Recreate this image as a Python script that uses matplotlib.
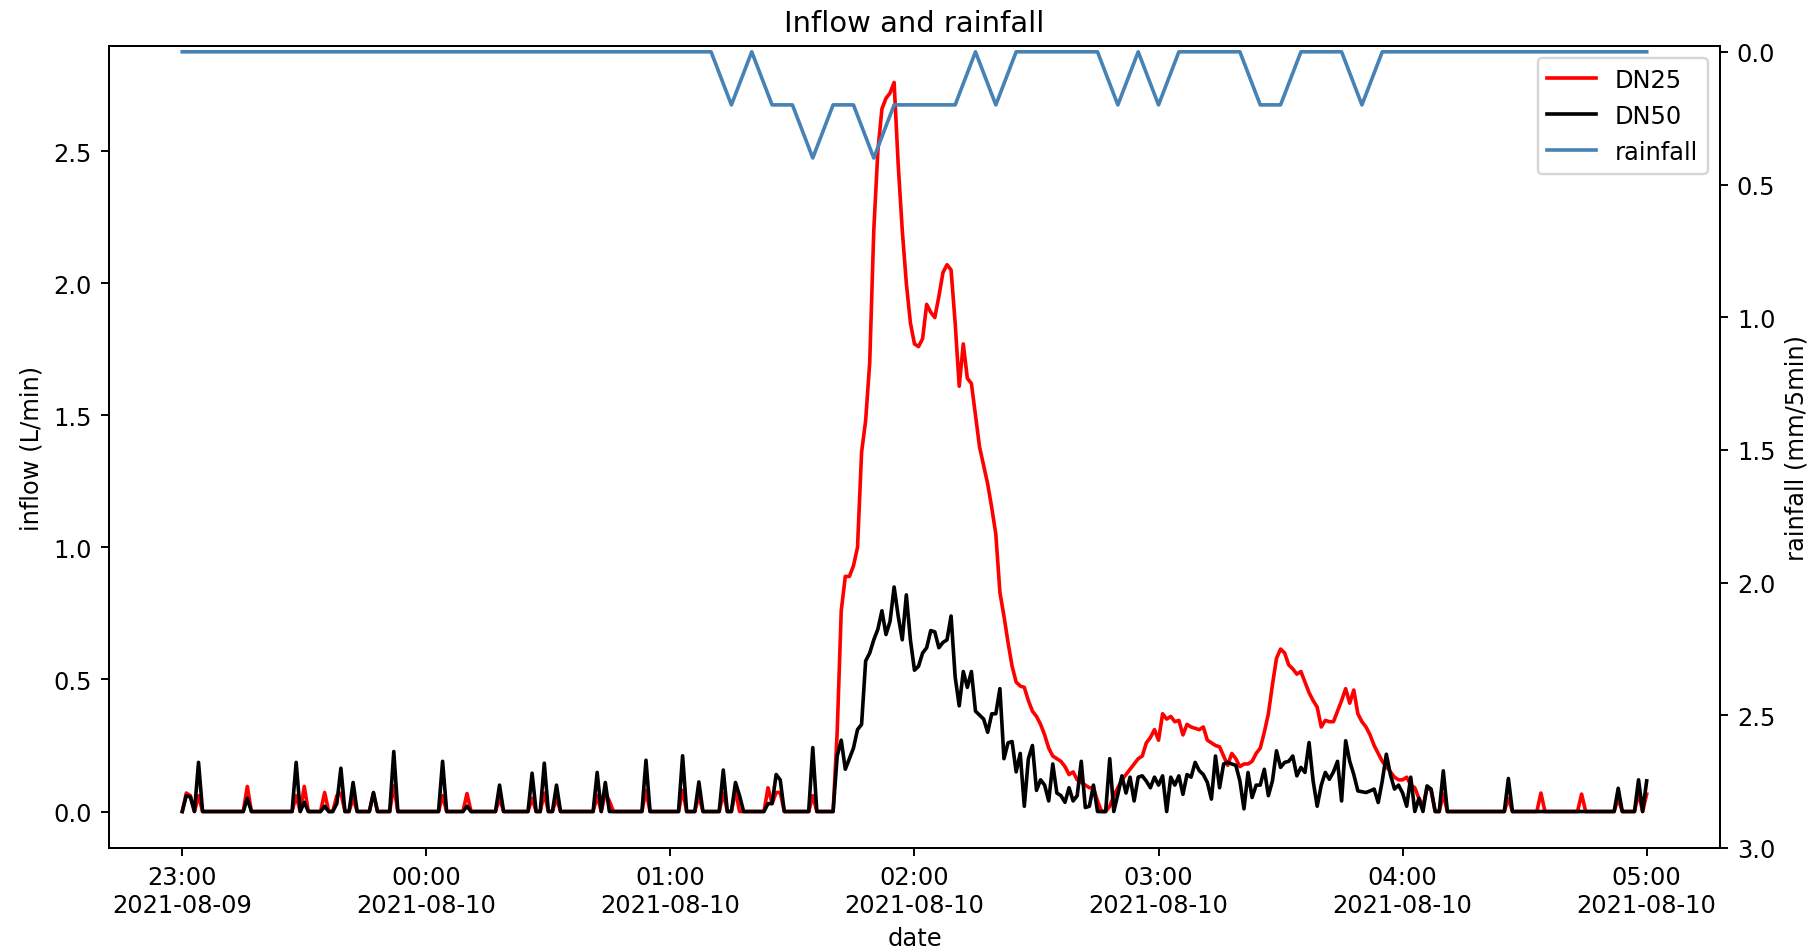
import numpy as np
import pandas as pd
import matplotlib
matplotlib.use('Agg')
import matplotlib.pyplot as plt
import matplotlib.dates as mdates

# one-minute inflow readings, 23:00 -> 05:00 (361 samples)
dn25 = [
    0, 0.07, 0.06, 0, 0.06, 0, 0, 0, 0, 0,
    0, 0, 0, 0, 0, 0, 0.095, 0, 0, 0,
    0, 0, 0, 0, 0, 0, 0, 0, 0.06, 0,
    0.095, 0, 0, 0, 0, 0.072, 0, 0, 0.06, 0.07,
    0, 0, 0.05, 0, 0, 0, 0, 0.07, 0, 0,
    0, 0, 0.097, 0, 0, 0, 0, 0, 0, 0,
    0, 0, 0, 0, 0.06, 0, 0, 0, 0, 0,
    0.068, 0, 0, 0, 0, 0, 0, 0, 0.05, 0,
    0, 0, 0, 0, 0, 0, 0.05, 0, 0, 0.07,
    0, 0, 0.05, 0, 0, 0, 0, 0, 0, 0,
    0, 0, 0.06, 0, 0.07, 0.04, 0, 0, 0, 0,
    0, 0, 0, 0, 0.08, 0, 0, 0, 0, 0,
    0, 0, 0, 0.08, 0, 0, 0, 0.06, 0, 0,
    0, 0, 0, 0.07, 0, 0, 0.08, 0, 0, 0,
    0, 0, 0, 0, 0.09, 0.03, 0.072, 0.072, 0, 0,
    0, 0, 0, 0, 0, 0.06, 0, 0, 0, 0,
    0, 0.3, 0.76, 0.89, 0.89, 0.93, 1.0, 1.36, 1.48, 1.7,
    2.2, 2.5, 2.66, 2.70, 2.72, 2.76, 2.45, 2.2, 2.0, 1.85,
    1.77, 1.76, 1.79, 1.92, 1.89, 1.87, 1.95, 2.04, 2.07, 2.05,
    1.85, 1.61, 1.77, 1.64, 1.62, 1.50, 1.38, 1.31, 1.24, 1.15,
    1.05, 0.83, 0.74, 0.64, 0.55, 0.49, 0.475, 0.47, 0.42, 0.38,
    0.36, 0.33, 0.29, 0.24, 0.21, 0.2, 0.19, 0.17, 0.14, 0.15,
    0.12, 0.11, 0.1, 0.09, 0.09, 0.04, 0.0, 0.0, 0.02, 0.06,
    0.09, 0.12, 0.14, 0.16, 0.18, 0.2, 0.21, 0.26, 0.28, 0.31,
    0.27, 0.37, 0.35, 0.36, 0.34, 0.345, 0.29, 0.33, 0.32, 0.315,
    0.31, 0.32, 0.27, 0.26, 0.25, 0.245, 0.21, 0.175, 0.22, 0.2,
    0.17, 0.18, 0.18, 0.19, 0.22, 0.24, 0.3, 0.37, 0.48, 0.58,
    0.615, 0.60, 0.555, 0.54, 0.52, 0.53, 0.49, 0.45, 0.42, 0.395,
    0.32, 0.345, 0.34, 0.34, 0.38, 0.42, 0.465, 0.41, 0.46, 0.37,
    0.34, 0.32, 0.29, 0.25, 0.22, 0.19, 0.17, 0.15, 0.13, 0.12,
    0.12, 0.13, 0.1, 0.09, 0.05, 0.02, 0.09, 0.08, 0, 0,
    0.066, 0, 0, 0, 0, 0, 0, 0, 0, 0,
    0, 0, 0, 0, 0, 0, 0.05, 0, 0, 0,
    0, 0, 0, 0, 0.07, 0, 0, 0, 0, 0,
    0, 0, 0, 0, 0.066, 0, 0, 0, 0, 0,
    0, 0, 0, 0.05, 0, 0, 0, 0, 0.07, 0,
    0.066,
]

dn50 = [
    0, 0.06, 0.055, 0, 0.186, 0, 0, 0, 0, 0,
    0, 0, 0, 0, 0, 0, 0.05, 0, 0, 0,
    0, 0, 0, 0, 0, 0, 0, 0, 0.186, 0,
    0.035, 0, 0, 0, 0, 0.02, 0, 0, 0.03, 0.164,
    0, 0, 0.11, 0, 0, 0, 0, 0.072, 0, 0,
    0, 0, 0.227, 0, 0, 0, 0, 0, 0, 0,
    0, 0, 0, 0, 0.19, 0, 0, 0, 0, 0,
    0.02, 0, 0, 0, 0, 0, 0, 0, 0.10, 0,
    0, 0, 0, 0, 0, 0, 0.145, 0, 0, 0.183,
    0, 0, 0.10, 0, 0, 0, 0, 0, 0, 0,
    0, 0, 0.148, 0, 0.11, 0, 0, 0, 0, 0,
    0, 0, 0, 0, 0.194, 0, 0, 0, 0, 0,
    0, 0, 0, 0.211, 0, 0, 0, 0.112, 0, 0,
    0, 0, 0, 0.157, 0, 0, 0.11, 0.06, 0, 0,
    0, 0, 0, 0, 0.03, 0.03, 0.14, 0.12, 0, 0,
    0, 0, 0, 0, 0, 0.242, 0, 0, 0, 0,
    0, 0.21, 0.27, 0.16, 0.2, 0.24, 0.31, 0.33, 0.57, 0.6,
    0.65, 0.69, 0.76, 0.67, 0.72, 0.85, 0.74, 0.65, 0.82, 0.65,
    0.535, 0.55, 0.6, 0.62, 0.685, 0.68, 0.62, 0.64, 0.65, 0.74,
    0.51, 0.40, 0.53, 0.47, 0.53, 0.38, 0.365, 0.35, 0.30, 0.37,
    0.37, 0.465, 0.2, 0.26, 0.265, 0.15, 0.22, 0.02, 0.2, 0.25,
    0.08, 0.12, 0.1, 0.04, 0.18, 0.07, 0.06, 0.035, 0.09, 0.04,
    0.06, 0.19, 0.015, 0.02, 0.1, 0, 0, 0, 0.2, 0,
    0.065, 0.135, 0.07, 0.13, 0.04, 0.13, 0.135, 0.115, 0.09, 0.13,
    0.1, 0.135, 0, 0.13, 0.1, 0.135, 0.065, 0.14, 0.13, 0.186,
    0.155, 0.14, 0.11, 0.047, 0.21, 0.09, 0.18, 0.186, 0.18, 0.175,
    0.116, 0.01, 0.148, 0.053, 0.1, 0.1, 0.16, 0.06, 0.116, 0.23,
    0.167, 0.186, 0.19, 0.21, 0.135, 0.167, 0.148, 0.261, 0.116, 0.02,
    0.1, 0.148, 0.122, 0.15, 0.19, 0.04, 0.268, 0.19, 0.14, 0.078,
    0.075, 0.072, 0.078, 0.085, 0.034, 0.116, 0.217, 0.14, 0.085, 0.1,
    0.07, 0.02, 0.13, 0, 0.05, 0, 0.097, 0.085, 0, 0,
    0.154, 0, 0, 0, 0, 0, 0, 0, 0, 0,
    0, 0, 0, 0, 0, 0, 0.125, 0, 0, 0,
    0, 0, 0, 0, 0, 0, 0, 0, 0, 0,
    0, 0, 0, 0, 0, 0, 0, 0, 0, 0,
    0, 0, 0, 0.088, 0, 0, 0, 0, 0.12, 0,
    0.116,
]

# 5-minute rainfall totals (mm), 23:00 -> 05:00
rainfall = [
    0, 0, 0, 0, 0, 0, 0, 0, 0, 0,
    0, 0, 0, 0, 0, 0, 0, 0, 0, 0,
    0, 0, 0, 0, 0, 0, 0, 0.2, 0, 0.2,
    0.2, 0.4, 0.2, 0.2, 0.4, 0.2, 0.2, 0.2, 0.2, 0,
    0.2, 0, 0, 0, 0, 0, 0.2, 0, 0.2, 0,
    0, 0, 0, 0.2, 0.2, 0, 0, 0, 0.2, 0,
    0, 0, 0, 0, 0, 0, 0, 0, 0, 0,
    0, 0, 0,
]

t_inflow = pd.date_range('2021-08-09 23:00', periods=len(dn25), freq='min')
t_rain = pd.date_range('2021-08-09 23:00', periods=len(rainfall), freq='5min')

DPI = 174
fig, ax = plt.subplots(figsize=(1811 / DPI, 949 / DPI), dpi=DPI)
fig.subplots_adjust(left=0.0602, right=0.9497, bottom=0.1054, top=0.9505)

l1, = ax.plot(t_inflow, dn25, color='red', label='DN25')
l2, = ax.plot(t_inflow, dn50, color='black', label='DN50')
ax.set_ylabel('inflow (L/min)')
ax.set_xlabel('date')
ax.xaxis.set_major_locator(mdates.HourLocator())
ax.xaxis.set_major_formatter(mdates.DateFormatter('%H:%M\n%Y-%m-%d'))

# rainfall hangs from the top on an inverted secondary axis
ax2 = ax.twinx()
l3, = ax2.plot(t_rain, rainfall, color='steelblue', label='rainfall')
ax2.set_ylim(3.0, -0.022)
ax2.set_ylabel('rainfall (mm/5min)')

ax.set_title('Inflow and rainfall')
ax2.legend(handles=[l1, l2, l3], loc='upper right')

fig.savefig('out.png', dpi=DPI)
